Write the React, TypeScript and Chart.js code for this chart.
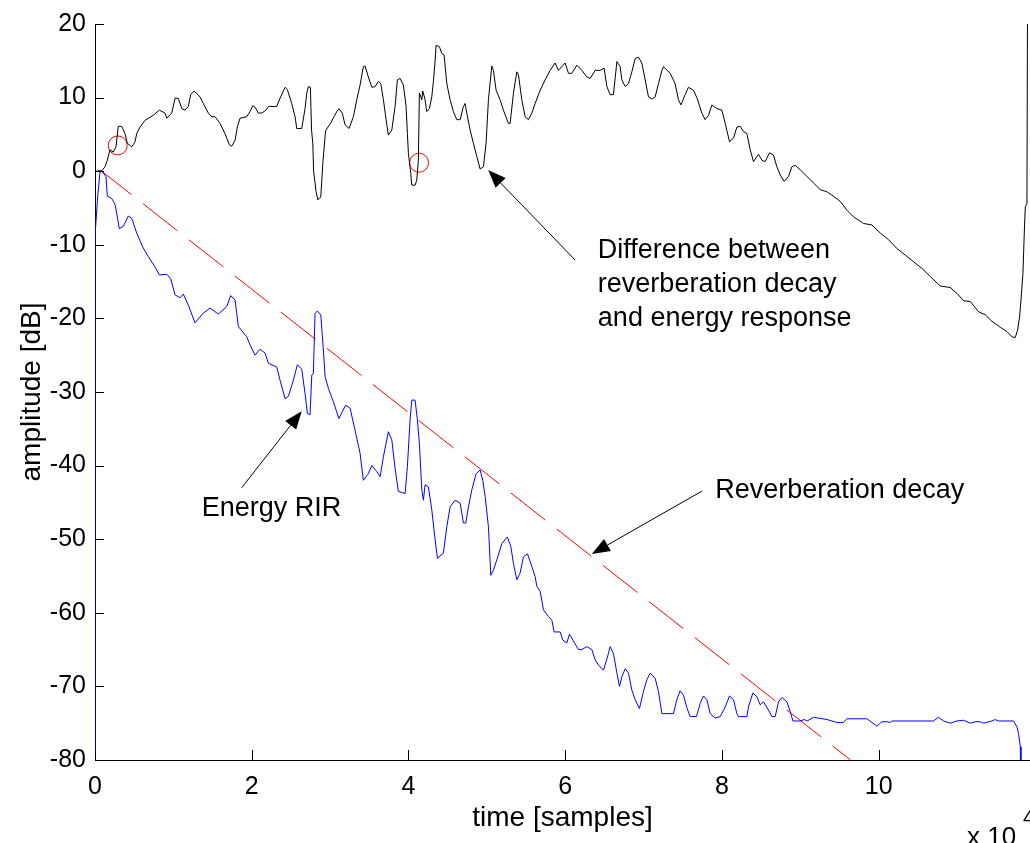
import React, { useEffect, useRef } from "react";
import { Chart, registerables } from "chart.js";

Chart.register(...registerables);

const FONT = "'Liberation Sans', Arial, Helvetica, sans-serif";

// x values are in units of 10^4 samples, y values in dB
const xTickValues = [0, 2, 4, 6, 8, 10];
const yTickValues = [-80, -70, -60, -50, -40, -30, -20, -10, 0, 10, 20];

// Energy RIR (blue)
const energyRir: [number, number][] = [
  [0, -85], [0, -8.8], [0.034, -3.5], [0.064, -0.1], [0.086, 0.0], [0.14, -0.7], [0.157, -3.4],
  [0.213, -3.7], [0.255, -4.5], [0.285, -6.2], [0.31, -7.8], [0.361, -7.5], [0.425, -6.1],
  [0.468, -6.4], [0.532, -8.4], [0.609, -10.3], [0.68, -11.6], [0.766, -13.0], [0.821, -14.1],
  [0.915, -14.0], [0.966, -14.6], [1.021, -16.8], [1.085, -17.2], [1.127, -16.7], [1.191, -18.2],
  [1.276, -20.6], [1.382, -19.3], [1.468, -18.6], [1.573, -19.4], [1.681, -18.4], [1.732, -16.9],
  [1.787, -17.5], [1.829, -21.1], [1.936, -22.5], [1.978, -23.6], [2.042, -25.0], [2.106, -24.2],
  [2.17, -24.7], [2.212, -26.1], [2.319, -26.6], [2.361, -28.4], [2.425, -30.9], [2.467, -30.6],
  [2.531, -28.4], [2.582, -26.3], [2.638, -26.9], [2.68, -30.2], [2.71, -32.9], [2.744, -33.1],
  [2.766, -27.7], [2.786, -27.5], [2.808, -19.3], [2.837, -19.0], [2.881, -19.5], [2.914, -24.3],
  [2.936, -27.9], [2.978, -29.5], [3.041, -31.3], [3.112, -33.6], [3.197, -31.8], [3.255, -32.2],
  [3.318, -35.2], [3.382, -38.3], [3.424, -42.0], [3.488, -41.1], [3.532, -40.0], [3.595, -40.8],
  [3.638, -41.5], [3.68, -38.8], [3.743, -35.4], [3.787, -36.5], [3.829, -40.4], [3.871, -43.5],
  [3.957, -43.8], [3.986, -40.1], [4.02, -33.8], [4.042, -31.1], [4.084, -31.1], [4.114, -33.8],
  [4.139, -37.0], [4.17, -43.3], [4.19, -44.7], [4.212, -42.6], [4.254, -42.9], [4.297, -46.0],
  [4.34, -50.1], [4.369, -52.6], [4.445, -51.9], [4.489, -48.3], [4.531, -45.6], [4.595, -44.7],
  [4.659, -45.1], [4.701, -47.8], [4.731, -47.8], [4.765, -45.6], [4.808, -43.3], [4.863, -41.1],
  [4.914, -40.6], [4.948, -42.0], [4.978, -44.2], [5.02, -48.3], [5.05, -54.9], [5.084, -54.2],
  [5.127, -52.8], [5.191, -50.6], [5.262, -49.7], [5.306, -51.0], [5.339, -53.3], [5.382, -55.5],
  [5.424, -54.6], [5.466, -52.4], [5.518, -52.0], [5.574, -53.7], [5.616, -55.1], [5.638, -56.4],
  [5.68, -57.1], [5.722, -59.6], [5.786, -60.5], [5.829, -61.0], [5.858, -62.6], [5.935, -62.6],
  [5.969, -63.7], [6.02, -64.1], [6.054, -62.9], [6.097, -63.7], [6.168, -65.0], [6.212, -65.0],
  [6.276, -64.6], [6.34, -65.0], [6.382, -66.4], [6.424, -67.1], [6.488, -67.8], [6.539, -66.0],
  [6.573, -64.6], [6.615, -65.5], [6.659, -68.2], [6.692, -70.0], [6.722, -68.7], [6.765, -67.6],
  [6.807, -68.2], [6.85, -70.5], [6.892, -71.8], [6.947, -73.0], [6.998, -70.7], [7.041, -69.1],
  [7.084, -68.2], [7.147, -68.9], [7.19, -70.7], [7.233, -73.7], [7.381, -73.7], [7.424, -71.8],
  [7.466, -70.6], [7.509, -71.2], [7.552, -72.9], [7.594, -74.1], [7.674, -74.1], [7.722, -72.3],
  [7.764, -71.3], [7.807, -71.8], [7.849, -73.7], [7.913, -74.3], [7.977, -74.1], [8.041, -72.8],
  [8.096, -71.3], [8.147, -71.8], [8.19, -73.7], [8.21, -74.1], [8.318, -74.1], [8.338, -72.8],
  [8.394, -70.9], [8.445, -71.4], [8.487, -72.5], [8.53, -72.1], [8.593, -73.2], [8.637, -74.1],
  [8.679, -74.1], [8.721, -72.1], [8.764, -71.5], [8.828, -72.1], [8.87, -73.4], [8.905, -74.7],
  [8.998, -74.7], [9.049, -74.5], [9.087, -74.7], [9.168, -74.2], [9.339, -74.5], [9.466, -74.9],
  [9.551, -74.9], [9.594, -74.4], [9.849, -74.4], [9.977, -75.4], [10.041, -74.8], [10.104, -74.8],
  [10.147, -74.9], [10.168, -74.7], [10.699, -74.7], [10.763, -74.2], [10.827, -74.7], [10.912, -75.0],
  [10.998, -74.7], [11.082, -74.6], [11.168, -75.0], [11.232, -74.8], [11.295, -74.8], [11.337, -75.0],
  [11.445, -74.7], [11.487, -74.5], [11.529, -74.7], [11.72, -74.7], [11.764, -75.5], [11.784, -76.4],
  [11.806, -78.2], [11.815, -85],
];

// Difference between reverberation decay and energy response (black)
const difference: [number, number][] = [
  [0, 0], [0.086, 0.07], [0.128, 0.6], [0.157, 1.5], [0.191, 2.9], [0.234, 2.6], [0.268, 3.3],
  [0.297, 6.1], [0.341, 6.1], [0.383, 5.1], [0.412, 3.8], [0.468, 3.3], [0.511, 4.0], [0.532, 5.1],
  [0.574, 6.0], [0.638, 6.9], [0.744, 7.6], [0.821, 8.3], [0.893, 7.9], [0.915, 7.2], [0.979, 7.9],
  [1.021, 9.9], [1.063, 9.9], [1.107, 8.5], [1.149, 8.3], [1.191, 8.8], [1.221, 10.4], [1.264, 10.9],
  [1.34, 10.1], [1.382, 9.2], [1.446, 7.9], [1.489, 7.4], [1.532, 7.4], [1.595, 6.5], [1.659, 5.1],
  [1.714, 3.6], [1.745, 3.4], [1.787, 4.2], [1.816, 6.0], [1.851, 7.2], [1.936, 7.4], [1.978, 8.1],
  [2.013, 8.9], [2.042, 8.7], [2.084, 7.9], [2.128, 7.9], [2.182, 8.3], [2.212, 8.8], [2.319, 8.8],
  [2.361, 9.9], [2.425, 11.4], [2.454, 11.1], [2.51, 9.2], [2.553, 7.4], [2.574, 5.8], [2.638, 5.8],
  [2.68, 8.5], [2.702, 10.6], [2.722, 11.5], [2.748, 11.4], [2.763, 5.6], [2.779, 3.8], [2.789, 0.0],
  [2.808, -1.6], [2.821, -2.8], [2.844, -3.9], [2.881, -3.5], [2.907, 1.1], [2.942, 5.5], [3.01, 6.6],
  [3.085, 8.1], [3.114, 8.5], [3.155, 7.9], [3.191, 6.3], [3.242, 5.8], [3.297, 7.4], [3.34, 9.7],
  [3.382, 11.7], [3.424, 14.2], [3.446, 14.3], [3.488, 12.8], [3.532, 11.4], [3.574, 11.5],
  [3.616, 12.2], [3.646, 11.9], [3.68, 9.7], [3.714, 7.0], [3.743, 4.9], [3.787, 5.6], [3.829, 8.8],
  [3.858, 12.4], [3.893, 12.6], [3.935, 11.7], [3.969, 8.8], [3.986, 5.1], [3.999, 2.4], [4.029, -0.3],
  [4.042, -1.9], [4.084, -1.9], [4.106, -1.2], [4.126, 1.5], [4.139, 10.6], [4.148, 10.4], [4.17, 9.7],
  [4.182, 10.9], [4.212, 9.7], [4.233, 8.1], [4.267, 8.5], [4.297, 10.1], [4.318, 12.2], [4.34, 15.1],
  [4.352, 17.1], [4.395, 16.9], [4.425, 16.0], [4.454, 15.8], [4.489, 11.9], [4.531, 9.7], [4.573, 8.1],
  [4.616, 7.0], [4.659, 7.0], [4.701, 8.8], [4.722, 9.2], [4.744, 7.9], [4.786, 5.6], [4.828, 3.8],
  [4.872, 2.0], [4.914, 0.3], [4.956, 0.6], [4.99, 3.8], [5.02, 9.7], [5.063, 14.3], [5.084, 13.7],
  [5.118, 11.0], [5.169, 9.7], [5.211, 8.3], [5.275, 6.5], [5.297, 6.5], [5.339, 10.6], [5.382, 13.5],
  [5.403, 13.1], [5.446, 9.7], [5.488, 7.4], [5.53, 7.0], [5.574, 7.9], [5.616, 9.2], [5.68, 11.0],
  [5.743, 12.4], [5.807, 13.7], [5.871, 14.7], [5.913, 13.7], [5.956, 14.2], [5.999, 14.7], [6.041, 13.3],
  [6.084, 13.3], [6.126, 14.0], [6.148, 14.4], [6.212, 13.7], [6.276, 12.8], [6.318, 12.6], [6.382, 13.7],
  [6.445, 13.7], [6.496, 14.0], [6.531, 11.5], [6.573, 10.4], [6.615, 10.4], [6.659, 14.9], [6.701, 14.2],
  [6.722, 12.4], [6.765, 11.5], [6.807, 11.9], [6.85, 13.5], [6.892, 15.3], [6.934, 15.5], [6.977, 14.7],
  [7.02, 12.4], [7.062, 10.1], [7.105, 9.8], [7.147, 10.1], [7.19, 11.9], [7.233, 13.7], [7.253, 14.2],
  [7.339, 13.3], [7.402, 11.9], [7.445, 9.7], [7.476, 9.0], [7.53, 10.4], [7.572, 11.4], [7.636, 11.0],
  [7.683, 9.9], [7.743, 7.9], [7.785, 7.0], [7.828, 7.6], [7.871, 9.0], [7.935, 8.5], [7.998, 8.3],
  [8.041, 6.5], [8.096, 4.0], [8.147, 4.5], [8.19, 6.0], [8.232, 6.1], [8.274, 5.4], [8.318, 5.1],
  [8.36, 2.9], [8.402, 1.3], [8.466, 2.3], [8.509, 1.5], [8.551, 1.3], [8.606, 2.5], [8.657, 2.2],
  [8.7, 0.6], [8.743, -0.5], [8.794, -1.4], [8.849, -0.7], [8.892, 0.6], [8.934, 0.8], [8.998, 0.2],
  [9.083, -0.7], [9.168, -1.6], [9.253, -2.5], [9.339, -2.8], [9.423, -3.4], [9.509, -4.1], [9.594, -5.3],
  [9.678, -6.2], [9.806, -7.1], [9.913, -7.3], [10.019, -8.4], [10.125, -9.3], [10.232, -10.5],
  [10.338, -11.4], [10.444, -12.3], [10.551, -13.2], [10.657, -14.3], [10.785, -15.6], [10.912, -15.8],
  [10.998, -16.6], [11.082, -17.6], [11.168, -17.7], [11.274, -19.1], [11.359, -19.5], [11.445, -20.4],
  [11.551, -21.2], [11.636, -21.8], [11.7, -22.5], [11.742, -22.6], [11.771, -21.6], [11.797, -19.8],
  [11.815, -17.5], [11.84, -13.9], [11.857, -8.4], [11.87, -4.8], [11.891, -4.4], [11.899, 25],
];

// Reverberation decay (red dashed), end points
const decayX = [0.085, 9.64];
const decayY = [0, -80];

// Red circle markers
const markerX = [0.29, 4.135];
const markerY = [3.5, 1.15];

// Annotation texts (left x, baseline y in data units)
const notes = [
  { lines: ["Difference between", "reverberation decay", "and energy response"], x: 6.416, y: -11.79 },
  { lines: ["Energy RIR"], x: 1.362, y: -46.85 },
  { lines: ["Reverberation decay"], x: 7.913, y: -44.4 },
];

// Arrows: tail -> tip, in data units
const arrows = [
  { from: [6.126, -12.07], to: [5.016, 0.16] },
  { from: [1.872, -43.0], to: [2.638, -32.6] },
  { from: [7.747, -43.45], to: [6.339, -52.0] },
];

function drawArrow(ctx: CanvasRenderingContext2D, x1: number, y1: number, x2: number, y2: number) {
  const ang = Math.atan2(y2 - y1, x2 - x1);
  const L = 18;
  const W = 7;
  const bx = x2 - L * Math.cos(ang);
  const by = y2 - L * Math.sin(ang);
  ctx.beginPath();
  ctx.moveTo(x1, y1);
  ctx.lineTo(bx, by);
  ctx.stroke();
  ctx.beginPath();
  ctx.moveTo(x2, y2);
  ctx.lineTo(bx + W * Math.sin(ang), by - W * Math.cos(ang));
  ctx.lineTo(bx - W * Math.sin(ang), by + W * Math.cos(ang));
  ctx.closePath();
  ctx.fill();
}

const decorPlugin = {
  id: "decor",
  afterDraw(chart: any) {
    const { ctx, chartArea: a, scales } = chart;
    const xs = scales.x;
    const ys = scales.y;
    ctx.save();
    // inward tick marks
    ctx.strokeStyle = "#000";
    ctx.lineWidth = 1;
    ctx.beginPath();
    xTickValues.forEach((v) => {
      const px = Math.round(xs.getPixelForValue(v)) + 0.5;
      ctx.moveTo(px, a.bottom);
      ctx.lineTo(px, a.bottom - 10);
    });
    yTickValues.forEach((v) => {
      const py = Math.round(ys.getPixelForValue(v)) + 0.5;
      ctx.moveTo(a.left, py);
      ctx.lineTo(a.left + 9, py);
    });
    ctx.stroke();

    // arrows
    ctx.fillStyle = "#000";
    ctx.lineWidth = 1;
    arrows.forEach((ar) => {
      drawArrow(
        ctx,
        xs.getPixelForValue(ar.from[0]),
        ys.getPixelForValue(ar.from[1]),
        xs.getPixelForValue(ar.to[0]),
        ys.getPixelForValue(ar.to[1])
      );
    });

    // annotation texts
    ctx.font = `27px ${FONT}`;
    ctx.textAlign = "left";
    ctx.textBaseline = "alphabetic";
    notes.forEach((n) => {
      const px = xs.getPixelForValue(n.x);
      const py = ys.getPixelForValue(n.y);
      n.lines.forEach((t, i) => ctx.fillText(t, px, py + i * 34));
    });

    // exponent label
    ctx.font = `26px ${FONT}`;
    ctx.fillText("x 10", a.right - 63, a.bottom + 85);
    ctx.font = `20px ${FONT}`;
    ctx.fillText("4", a.right - 7, a.bottom + 64);
    ctx.restore();
  },
};

export default function App() {
  const ref = useRef<HTMLCanvasElement>(null);

  useEffect(() => {
    const canvas = ref.current;
    if (!canvas) return;
    const chart = new Chart(canvas, {
      type: "line",
      data: {
        datasets: [
          {
            label: "Energy RIR",
            data: energyRir.map(([x, y]) => ({ x, y })),
            borderColor: "#0000ff",
            borderWidth: 1,
            pointRadius: 0,
            tension: 0,
            fill: false,
          },
          {
            label: "Difference",
            data: difference.map(([x, y]) => ({ x, y })),
            borderColor: "#000000",
            borderWidth: 1,
            pointRadius: 0,
            tension: 0,
            fill: false,
          },
          {
            label: "Reverberation decay",
            data: decayX.map((x, i) => ({ x, y: decayY[i] })),
            borderColor: "#ff0000",
            borderWidth: 1,
            borderDash: [44, 14.5],
            borderDashOffset: 6,
            pointRadius: 0,
            tension: 0,
            fill: false,
          },
          {
            type: "scatter",
            label: "Markers",
            data: markerX.map((x, i) => ({ x, y: markerY[i] })),
            showLine: false,
            pointStyle: "circle",
            pointRadius: 9.5,
            pointBorderColor: "#ff0000",
            pointBackgroundColor: "rgba(0,0,0,0)",
            pointBorderWidth: 1,
          } as any,
        ],
      },
      options: {
        animation: false,
        responsive: true,
        maintainAspectRatio: false,
        layout: { autoPadding: false, padding: { left: 0, top: 24, right: 0, bottom: 0 } },
        plugins: { legend: { display: false }, tooltip: { enabled: false } },
        scales: {
          x: {
            type: "linear",
            min: 0,
            max: 11.93,
            afterFit: (s: any) => {
              s.height = 83;
              s.paddingLeft = 0;
              s.paddingRight = 0;
            },
            grid: { display: false, drawTicks: false },
            border: { display: true, color: "#000", width: 1 },
            ticks: {
              stepSize: 2,
              includeBounds: false,
              padding: 12,
              color: "#000",
              font: { family: FONT, size: 25 },
              maxRotation: 0,
            },
            title: {
              display: true,
              text: "time [samples]",
              color: "#000",
              font: { family: FONT, size: 28 },
              padding: { top: 0, bottom: 8 },
            },
          },
          y: {
            type: "linear",
            min: -80,
            max: 20,
            afterFit: (s: any) => {
              s.width = 95;
              s.paddingTop = 0;
              s.paddingBottom = 0;
            },
            grid: { display: false, drawTicks: false },
            border: { display: true, color: "#000", width: 1 },
            ticks: {
              stepSize: 10,
              padding: 9,
              color: "#000",
              font: { family: FONT, size: 25 },
            },
            title: {
              display: true,
              text: "amplitude [dB]",
              color: "#000",
              font: { family: FONT, size: 28 },
              padding: { top: 15, bottom: 0 },
            },
          },
        },
      },
      plugins: [decorPlugin],
    });
    return () => chart.destroy();
  }, []);

  return (
    <div
      style={{
        position: "fixed",
        left: 0,
        top: 0,
        width: 1030,
        height: 843,
        background: "#fff",
      }}
    >
      <canvas ref={ref} />
    </div>
  );
}
